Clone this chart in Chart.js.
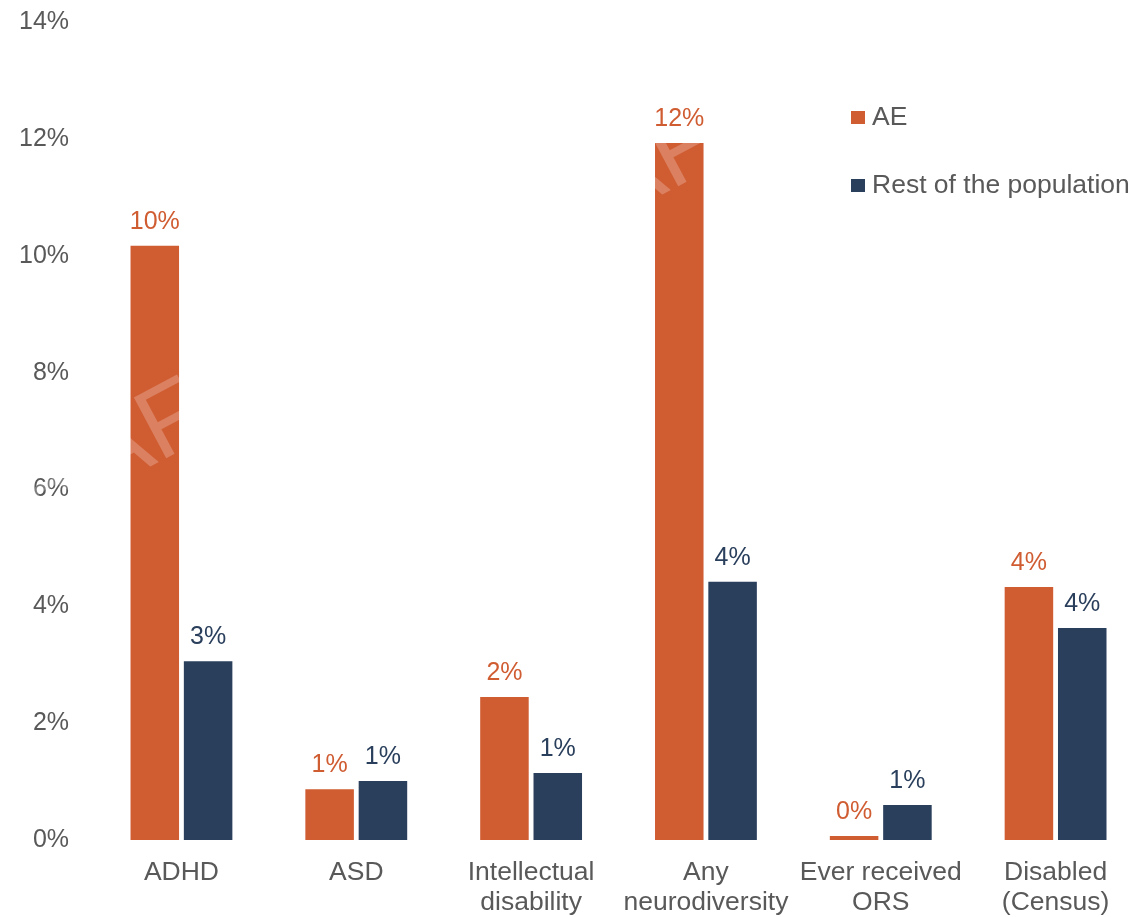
<!DOCTYPE html>
<html>
<head>
<meta charset="utf-8">
<script src="https://cdn.jsdelivr.net/npm/chart.js@4/dist/chart.umd.min.js"></script>
<style>
  html, body { margin: 0; padding: 0; overflow: hidden; background: #fff; }
  #wrap { width: 1150px; height: 917px; }
</style>
</head>
<body>
<div id="wrap"><canvas id="chart" width="1150" height="917"></canvas></div>
<script>
const categories = [
    'ADHD',
    'ASD',
    ['Intellectual', 'disability'],
    ['Any', 'neurodiversity'],
    ['Ever received', 'ORS'],
    ['Disabled', '(Census)']
];
const seriesNames = ['AE', 'Rest of the population'];
const aeValues = [10.17, 0.87, 2.45, 11.93, 0.07, 4.33];
const restValues = [3.06, 1.01, 1.15, 4.42, 0.60, 3.63];
const yTicks = [0, 2, 4, 6, 8, 10, 12, 14];

const orange = '#D05C32';
const navy = '#2A3F5C';
const grey = '#595959';
const font = "'Liberation Sans', Arial, sans-serif";

// faint "DRAFT" watermark, only shows up over the bars
const watermark = {
    id: 'watermark',
    afterDatasetsDraw(chart) {
        const ctx = chart.ctx;
        const spots = [[159, 462], [671, 190]];
        ctx.save();
        ctx.font = '100px ' + font;
        ctx.fillStyle = 'rgba(255,255,255,0.23)';
        ctx.textBaseline = 'alphabetic';
        const before = ctx.measureText('DRA').width;
        spots.forEach(([x, y]) => {
            ctx.save();
            ctx.translate(x, y);
            ctx.rotate(-28 * Math.PI / 180);
            ctx.fillText('DRAFT', -before, 0);
            ctx.restore();
        });
        ctx.restore();
    }
};

const valueLabels = {
    id: 'valueLabels',
    afterDatasetsDraw(chart) {
        const ctx = chart.ctx;
        ctx.save();
        ctx.font = '25px ' + font;
        ctx.textAlign = 'center';
        ctx.textBaseline = 'alphabetic';
        chart.data.datasets.forEach((ds, i) => {
            ctx.fillStyle = ds.backgroundColor;
            chart.getDatasetMeta(i).data.forEach((bar, j) => {
                ctx.fillText(Math.round(ds.data[j]) + '%', bar.x, bar.y - 17);
            });
        });
        ctx.restore();
    }
};

const sideLegend = {
    id: 'sideLegend',
    afterDraw(chart) {
        const ctx = chart.ctx;
        ctx.save();
        ctx.font = '26.5px ' + font;
        ctx.textBaseline = 'middle';
        chart.data.datasets.forEach((ds, i) => {
            const y = 117 + i * 68;
            ctx.fillStyle = ds.backgroundColor;
            ctx.fillRect(851, y - 6, 14, 13);
            ctx.fillStyle = grey;
            ctx.fillText(ds.label, 872, y + 1);
        });
        ctx.restore();
    }
};

new Chart(document.getElementById('chart'), {
    type: 'bar',
    data: {
        labels: categories,
        datasets: [
            { label: seriesNames[0], data: aeValues, backgroundColor: orange },
            { label: seriesNames[1], data: restValues, backgroundColor: navy }
        ]
    },
    options: {
        responsive: false,
        animation: false,
        devicePixelRatio: 1,
        categoryPercentage: 0.61,
        barPercentage: 0.91,
        layout: { padding: { top: 0, left: -6, right: 7, bottom: -19 } },
        plugins: {
            legend: { display: false },
            tooltip: { enabled: false }
        },
        scales: {
            x: {
                grid: { display: false, drawTicks: false },
                border: { display: false },
                ticks: {
                    color: grey,
                    font: { size: 26.5, family: font, lineHeight: 1.13 },
                    padding: 18,
                    maxRotation: 0,
                    autoSkip: false
                }
            },
            y: {
                min: 0,
                max: 14,
                afterBuildTicks(scale) {
                    scale.ticks = yTicks.map(v => ({ value: v }));
                },
                afterFit(scale) {
                    scale.paddingTop = 22;
                    scale.paddingBottom = 0;
                },
                grid: { display: false, drawTicks: false },
                border: { display: false },
                ticks: {
                    color: grey,
                    font: { size: 25, family: font },
                    padding: 25,
                    callback: v => v + '%'
                }
            }
        }
    },
    plugins: [watermark, valueLabels, sideLegend]
});
</script>
</body>
</html>
